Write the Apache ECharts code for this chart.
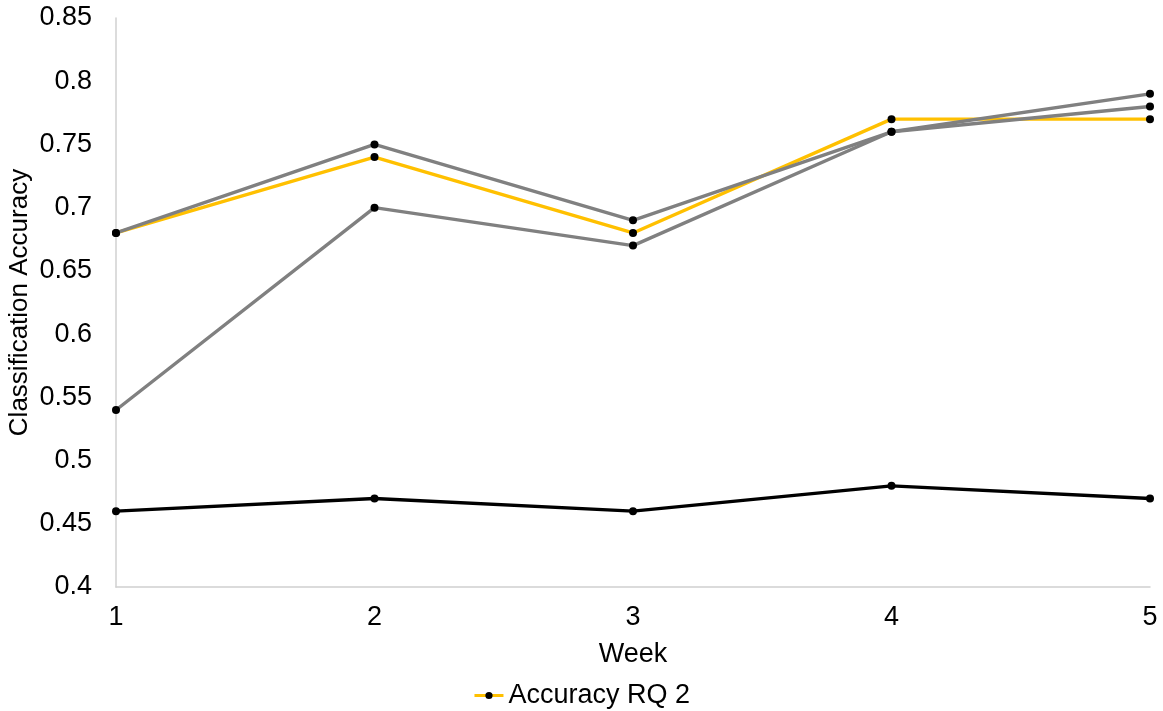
<!DOCTYPE html>
<html>
<head>
<meta charset="utf-8">
<script src="https://cdn.jsdelivr.net/npm/echarts@6/dist/echarts.min.js"></script>
<style>html,body{margin:0;padding:0;background:#fff}#c{width:1163px;height:711px}</style>
</head>
<body>
<div id="c"></div>
<script>
var weeks = ['1', '2', '3', '4', '5'];
var baseline = [0.46, 0.47, 0.46, 0.48, 0.47];
var grayA = [0.68, 0.75, 0.69, 0.76, 0.79];
var grayB = [0.54, 0.70, 0.67, 0.76, 0.78];
var rq2 = [0.68, 0.74, 0.68, 0.77, 0.77];

var font = 'Liberation Sans, Arial, sans-serif';
function mk(name, data, color, z) {
  return {
    name: name, type: 'line', data: data, z: z,
    symbol: 'circle', symbolSize: 8,
    itemStyle: { color: '#000' },
    lineStyle: { color: color, width: 3.4 },
    emphasis: { disabled: true }, animation: false
  };
}
var chart = echarts.init(document.getElementById('c'));
chart.setOption({
  animation: false,
  grid: { left: 116, right: 13, top: 18, bottom: 124, containLabel: false, outerBoundsMode: 'none' },
  legend: {
    data: ['Accuracy RQ 2'], top: 677, left: 'center',
    itemWidth: 29, itemHeight: 9, itemGap: 10,
    lineStyle: { width: 3 },
    textStyle: { fontFamily: font, fontSize: 27, color: '#000' }
  },
  xAxis: {
    type: 'category', data: weeks, boundaryGap: false,
    name: 'Week', nameLocation: 'middle', nameGap: 54, nameMoveOverlap: false,
    nameTextStyle: { fontFamily: font, fontSize: 27, color: '#000' },
    axisLine: { lineStyle: { color: '#d0d0d0', width: 1.5 } },
    axisTick: { show: false },
    axisLabel: { fontFamily: font, fontSize: 27, color: '#000', margin: 17 },
    splitLine: { show: false }
  },
  yAxis: {
    type: 'value', min: 0.4, max: 0.85, interval: 0.05,
    name: 'Classification Accuracy', nameLocation: 'middle', nameGap: 83, nameMoveOverlap: false,
    nameTextStyle: { fontFamily: font, fontSize: 26, color: '#000' },
    axisLine: { show: true, lineStyle: { color: '#d0d0d0', width: 1.5 } },
    axisTick: { show: false },
    axisLabel: { fontFamily: font, fontSize: 27, color: '#000', margin: 24,
      formatter: function (v) { return String(Math.round(v * 100) / 100); } },
    splitLine: { show: false }
  },
  series: [
    mk('Baseline', baseline, '#000000', 2),
    mk('Accuracy RQ 2', rq2, '#FFC000', 3),
    mk('Accuracy A', grayA, '#808080', 4),
    mk('Accuracy B', grayB, '#808080', 4)
  ]
});
</script>
</body>
</html>
